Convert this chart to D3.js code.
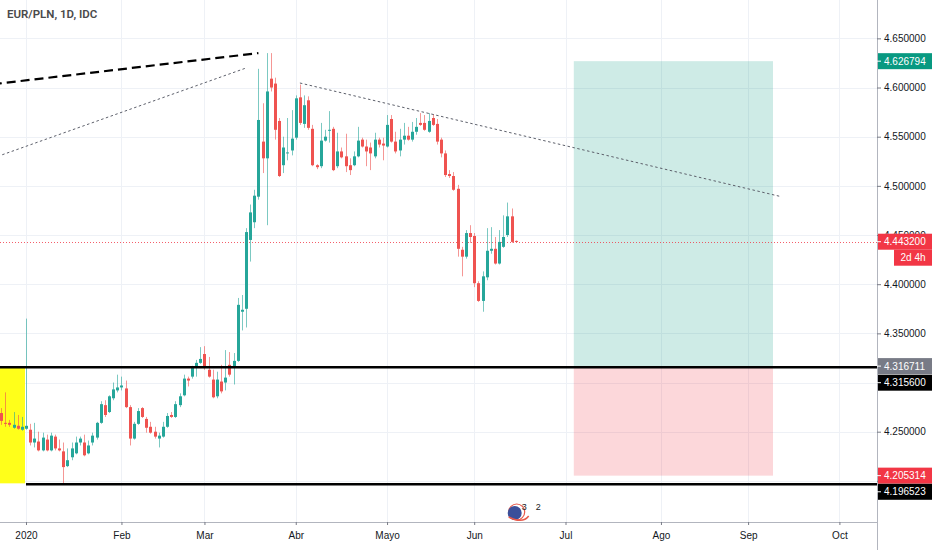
<!DOCTYPE html>
<html>
<head>
<meta charset="utf-8">
<script src="https://cdn.jsdelivr.net/npm/d3@7"></script>
<style>
  html, body { margin: 0; padding: 0; background: #ffffff; }
  svg { display: block; font-family: "Liberation Sans", Arial, sans-serif; }
</style>
</head>
<body>
<svg id="chart" width="932" height="550"></svg>
<script>
// ---------------- DATA ----------------
const title = "EUR/PLN, 1D, IDC";
const firstCandleDate = "2019-12-24";   // consecutive trading weekdays from here
const opens = [
  4.269,4.259,4.259,4.254,4.256,4.252,4.253,
  4.252,4.239,4.240,4.231,4.242,4.231,4.245,4.233,4.230,4.215,4.224,4.228,4.239,4.239,4.228,4.239,4.244,4.259,4.277,4.270,4.284,4.292,
  4.295,4.294,4.275,4.243,4.258,4.274,4.263,4.255,4.250,4.243,4.245,4.255,4.267,4.265,4.277,4.287,4.304,4.306,4.315,4.320,
  4.329,4.313,4.303,4.286,4.301,4.300,4.318,4.315,4.322,4.372,4.375,4.445,4.463,4.489,4.545,4.528,4.609,4.604,4.566,4.521,4.533,4.536,
  4.549,4.590,4.563,4.587,4.558,4.521,4.520,4.546,4.556,4.558,4.520,4.535,4.530,4.521,4.521,4.530,4.547,4.540,4.539,4.530,4.547,4.543,
  4.540,4.568,4.545,4.536,4.547,4.551,4.547,4.555,4.564,4.564,4.555,4.569,4.563,4.547,4.533,4.512,4.510,4.497,4.435,4.428,4.452,
  4.449,4.401,4.383,4.407,4.434,4.436,4.421,4.438,4.450,4.469,4.4440
];
const highs = [
  4.274,4.290,4.262,4.270,4.267,4.265,4.365,
  4.258,4.259,4.250,4.249,4.247,4.249,4.247,4.242,4.239,4.233,4.239,4.245,4.245,4.247,4.241,4.249,4.260,4.281,4.282,4.287,4.300,4.308,
  4.306,4.302,4.277,4.260,4.274,4.275,4.265,4.260,4.255,4.249,4.260,4.269,4.270,4.281,4.289,4.308,4.306,4.317,4.323,4.336,
  4.337,4.326,4.313,4.311,4.318,4.333,4.331,4.330,4.386,4.389,4.457,4.481,4.496,4.619,4.584,4.635,4.635,4.610,4.569,4.550,4.569,4.577,
  4.592,4.603,4.592,4.591,4.562,4.522,4.564,4.557,4.576,4.560,4.554,4.539,4.553,4.528,4.535,4.560,4.549,4.547,4.544,4.554,4.549,4.549,
  4.572,4.572,4.555,4.558,4.564,4.560,4.565,4.569,4.574,4.572,4.574,4.573,4.568,4.549,4.536,4.516,4.514,4.501,4.438,4.455,4.460,
  4.452,4.403,4.413,4.457,4.458,4.448,4.455,4.470,4.483,4.477,4.4445
];
const lows = [
  4.257,4.255,4.255,4.253,4.252,4.251,4.252,
  4.236,4.234,4.230,4.230,4.230,4.230,4.231,4.230,4.197,4.214,4.221,4.227,4.236,4.225,4.227,4.236,4.242,4.258,4.265,4.269,4.282,4.290,
  4.292,4.274,4.236,4.242,4.257,4.264,4.249,4.248,4.243,4.234,4.244,4.254,4.264,4.264,4.275,4.286,4.296,4.304,4.306,4.319,
  4.313,4.305,4.284,4.284,4.289,4.292,4.306,4.298,4.321,4.353,4.356,4.423,4.457,4.486,4.513,4.460,4.596,4.547,4.509,4.513,4.526,4.531,
  4.547,4.562,4.559,4.557,4.520,4.517,4.518,4.545,4.544,4.515,4.518,4.528,4.514,4.511,4.520,4.529,4.539,4.520,4.516,4.528,4.539,4.526,
  4.539,4.544,4.533,4.530,4.542,4.546,4.545,4.552,4.561,4.556,4.554,4.561,4.542,4.529,4.509,4.508,4.495,4.428,4.408,4.426,4.442,
  4.397,4.382,4.372,4.404,4.431,4.420,4.420,4.437,4.448,4.442,4.4430
];
const closes = [
  4.261,4.258,4.257,4.257,4.253,4.255,4.256,
  4.239,4.243,4.231,4.244,4.231,4.246,4.233,4.231,4.214,4.221,4.233,4.239,4.243,4.226,4.236,4.246,4.259,4.278,4.267,4.286,4.293,4.295,
  4.297,4.275,4.243,4.258,4.271,4.265,4.254,4.249,4.245,4.246,4.255,4.266,4.265,4.278,4.286,4.304,4.302,4.315,4.320,4.324,
  4.315,4.306,4.285,4.303,4.291,4.305,4.308,4.322,4.379,4.374,4.453,4.473,4.490,4.567,4.528,4.596,4.600,4.557,4.510,4.539,4.534,4.548,
  4.589,4.564,4.582,4.559,4.521,4.519,4.546,4.550,4.557,4.516,4.535,4.529,4.520,4.516,4.530,4.546,4.540,4.535,4.533,4.547,4.542,4.541,
  4.562,4.545,4.535,4.547,4.551,4.547,4.555,4.560,4.562,4.557,4.566,4.562,4.545,4.533,4.511,4.510,4.496,4.436,4.428,4.452,4.448,
  4.401,4.383,4.408,4.434,4.436,4.421,4.443,4.448,4.469,4.443,4.4432
];
const lastPrice = 4.4432;
const countdownText = "2d 4h";

const priceTicks = [4.65, 4.60, 4.55, 4.50, 4.45, 4.40, 4.35, 4.30, 4.25, 4.20];
const priceTickLabels = ["4.650000","4.600000","4.550000","4.500000","4.450000","4.400000","4.350000","","4.250000",""];
const timeTickDates  = ["2020-01-01","2020-02-03","2020-03-02","2020-04-01","2020-05-01","2020-06-01","2020-07-01","2020-08-03","2020-09-01","2020-10-01"];
const timeTickLabels = ["2020","Feb","Mar","Abr","Mayo","Jun","Jul","Ago","Sep","Oct"];

// drawings
const supportLevels = [
  { price: 4.3156,   from: "2019-12-20" },
  { price: 4.196523, from: "2020-01-01" }
];
const yellowBox = { from: "2019-12-20", to: "2020-01-01", top: 4.3156, bottom: 4.1975 };
const dashedLine = [ { date: "2019-12-20", price: 4.6033 }, { date: "2020-03-19", price: 4.6350 } ];
const dottedLine1 = [ { date: "2019-12-20", price: 4.5282 }, { date: "2020-03-16", price: 4.6198 } ];
const dottedLine2 = [ { date: "2020-04-02", price: 4.6046 }, { date: "2020-09-11", price: 4.4890 } ];
const longPosition = { from: "2020-07-03", to: "2020-09-09", target: 4.626794, entry: 4.316711, stop: 4.205314 };
const axisLabels = [
  { price: 4.626794, text: "4.626794", bg: "#089981", fg: "#ffffff" },
  { price: 4.4432,   text: "4.443200", bg: "#f23645", fg: "#ffffff" },
  { price: 4.316711, text: "4.316711", bg: "#787b86", fg: "#ffffff" },
  { price: 4.3156,   text: "4.315600", bg: "#000000", fg: "#ffffff", shift: 15.5 },
  { price: 4.205314, text: "4.205314", bg: "#f23645", fg: "#ffffff" },
  { price: 4.196523, text: "4.196523", bg: "#000000", fg: "#ffffff", shift: 7.5 }
];

// ---------------- LAYOUT ----------------
const W = 932, H = 550;
const plotRight = 877, plotBottom = 522;
const svg = d3.select("#chart");

const isWeekday = d => d.getUTCDay() !== 0 && d.getUTCDay() !== 6;
const parse = s => new Date(s + "T00:00:00Z");
const base = parse("2020-01-01");
function wdIndex(s) {
  const d = parse(s);
  if (d >= base) return d3.utcDays(base, d).filter(isWeekday).length;
  return -d3.utcDays(d, base).filter(isWeekday).length;
}
const candleDates = d3.utcDays(parse(firstCandleDate), parse("2020-12-31"))
  .filter(isWeekday).slice(0, opens.length).map(d => d3.utcFormat("%Y-%m-%d")(d));

const x = d3.scaleLinear().domain([-6.265, 205.06]).range([0, plotRight]);
const y = d3.scaleLinear().domain([4.6890, 4.1297]).range([0, H]);
const xd = s => x(wdIndex(s));

// clip
svg.append("defs").append("clipPath").attr("id", "plot")
  .append("rect").attr("x", 0).attr("y", 0).attr("width", plotRight).attr("height", plotBottom);

// grid
const grid = svg.append("g");
grid.selectAll("line.v").data(timeTickDates).join("line")
  .attr("x1", d => Math.round(xd(d)) + 0.5).attr("x2", d => Math.round(xd(d)) + 0.5)
  .attr("y1", 0).attr("y2", plotBottom).attr("stroke", "#eef1f6").attr("stroke-width", 1);
grid.selectAll("line.h").data(priceTicks).join("line")
  .attr("x1", 0).attr("x2", plotRight)
  .attr("y1", d => Math.round(y(d)) + 0.5).attr("y2", d => Math.round(y(d)) + 0.5)
  .attr("stroke", "#eef1f6").attr("stroke-width", 1);

const plot = svg.append("g").attr("clip-path", "url(#plot)");

// yellow box
plot.append("rect")
  .attr("x", xd(yellowBox.from)).attr("y", y(yellowBox.top))
  .attr("width", xd(yellowBox.to) - xd(yellowBox.from) - 1)
  .attr("height", y(yellowBox.bottom) - y(yellowBox.top))
  .attr("fill", "#ffff1a");

// long position
const lpX0 = xd(longPosition.from), lpX1 = xd(longPosition.to);
plot.append("rect").attr("x", lpX0).attr("y", y(longPosition.target))
  .attr("width", lpX1 - lpX0).attr("height", y(longPosition.entry) - y(longPosition.target))
  .attr("fill", "rgba(8,153,129,0.2)");
plot.append("rect").attr("x", lpX0).attr("y", y(longPosition.entry))
  .attr("width", lpX1 - lpX0).attr("height", y(longPosition.stop) - y(longPosition.entry))
  .attr("fill", "rgba(242,54,69,0.2)");

// price line
plot.append("line").attr("x1", 0).attr("x2", plotRight)
  .attr("y1", Math.round(y(lastPrice)) + 0.5).attr("y2", Math.round(y(lastPrice)) + 0.5)
  .attr("stroke", "#f23645").attr("stroke-width", 1).attr("stroke-dasharray", "1,2").attr("opacity", 0.8);

// candles
const cg = plot.append("g");
const candles = candleDates.map((d, i) => ({ d, o: opens[i], h: highs[i], l: lows[i], c: closes[i] }));
const up = "#26a69a", dn = "#ef5350";
cg.selectAll("line.wick").data(candles).join("line")
  .attr("x1", d => Math.round(xd(d.d)) + 0.5).attr("x2", d => Math.round(xd(d.d)) + 0.5)
  .attr("y1", d => y(d.h)).attr("y2", d => y(d.l))
  .attr("stroke", d => d.c >= d.o ? up : dn).attr("stroke-width", 1).attr("opacity", 0.6);
cg.selectAll("rect.body").data(candles).join("rect")
  .attr("x", d => Math.round(xd(d.d)) - 1).attr("width", 3)
  .attr("y", d => y(Math.max(d.o, d.c)))
  .attr("height", d => Math.max(1, Math.abs(y(d.o) - y(d.c))))
  .attr("fill", d => d.c >= d.o ? up : dn);

// horizontal levels
plot.selectAll("line.level").data(supportLevels).join("line")
  .attr("x1", d => xd(d.from)).attr("x2", plotRight)
  .attr("y1", d => y(d.price)).attr("y2", d => y(d.price))
  .attr("stroke", "#000").attr("stroke-width", 2.5);

// trend lines
const seg = (g, pts, color, w, dash) => g.append("line")
  .attr("x1", xd(pts[0].date)).attr("y1", y(pts[0].price))
  .attr("x2", xd(pts[1].date)).attr("y2", y(pts[1].price))
  .attr("stroke", color).attr("stroke-width", w).attr("stroke-dasharray", dash);
seg(plot, dashedLine, "#000", 2.2, "9,5");
seg(plot, dottedLine1, "#5d606b", 1, "2.5,2.5");
seg(plot, dottedLine2, "#5d606b", 1, "2.5,2.5");

// events icon
const ix = xd("2020-06-15") - 1, iy = 512;
svg.append("circle").attr("cx", ix + 2).attr("cy", iy).attr("r", 8).attr("fill", "none").attr("stroke", "#e8594a").attr("stroke-width", 1.2);
svg.append("circle").attr("cx", ix).attr("cy", iy + 1).attr("r", 7).attr("fill", "#3b4f9a");
svg.append("path").attr("d", `M${ix-6},${iy+5} Q${ix+8},${iy+12} ${ix+14},${iy+4}`).attr("fill", "none").attr("stroke", "#e8594a").attr("stroke-width", 1.5);
svg.append("text").attr("x", ix + 7).attr("y", iy - 2).attr("font-size", 9).attr("fill", "#222").text("3");
svg.append("text").attr("x", ix + 21).attr("y", iy - 2).attr("font-size", 9).attr("fill", "#222").text("2");

// axes lines
svg.append("line").attr("x1", plotRight + 0.5).attr("x2", plotRight + 0.5).attr("y1", 0).attr("y2", H)
  .attr("stroke", "#b2b5be").attr("stroke-width", 1);
svg.append("line").attr("x1", 0).attr("x2", plotRight).attr("y1", plotBottom + 0.5).attr("y2", plotBottom + 0.5)
  .attr("stroke", "#b2b5be").attr("stroke-width", 1);

// price axis
const yAxis = d3.axisRight(y).tickValues(priceTicks)
  .tickFormat((d, i) => priceTickLabels[i]).tickSize(4).tickPadding(3);
const ya = svg.append("g").attr("transform", `translate(${plotRight},0)`).call(yAxis);
ya.select(".domain").remove();
ya.selectAll("line").attr("stroke", "#787b86");
ya.selectAll("text").attr("font-size", 10).attr("fill", "#131722").attr("font-family", "Liberation Sans, Arial, sans-serif");

// time axis
const xTickIdx = timeTickDates.map(wdIndex);
const xAxis = d3.axisBottom(x).tickValues(xTickIdx).tickFormat((d, i) => timeTickLabels[i]).tickSize(3).tickPadding(7);
const xa = svg.append("g").attr("transform", `translate(0,${plotBottom})`).call(xAxis);
xa.select(".domain").remove();
xa.selectAll("line").attr("stroke", "#787b86");
xa.selectAll("text").attr("font-size", 10).attr("fill", "#131722").attr("font-family", "Liberation Sans, Arial, sans-serif");

// axis price labels
const lg = svg.append("g");
axisLabels.forEach(l => {
  const cy = (l.shift ? y(l.price) + l.shift : y(l.price));
  lg.append("rect").attr("x", plotRight + 1).attr("y", cy - 8).attr("width", W - plotRight - 1).attr("height", 16).attr("fill", l.bg);
  lg.append("line").attr("x1", plotRight).attr("x2", plotRight + 4).attr("y1", cy).attr("y2", cy).attr("stroke", l.fg);
  lg.append("text").attr("x", plotRight + 7).attr("y", cy).attr("dy", "0.35em")
    .attr("font-size", 10).attr("fill", l.fg).text(l.text);
});
// countdown
const cdy = y(lastPrice) + 16;
lg.append("rect").attr("x", 894).attr("y", cdy - 8).attr("width", W - 894).attr("height", 16).attr("fill", "#f23645");
lg.append("text").attr("x", 913).attr("y", cdy).attr("dy", "0.35em").attr("text-anchor", "middle")
  .attr("font-size", 10).attr("fill", "#fff").text(countdownText);

// title
svg.append("text").attr("x", 7).attr("y", 18).attr("font-size", 11.5).attr("font-weight", 600)
  .attr("font-family", "Roboto, Liberation Sans, sans-serif").attr("fill", "#4a4a4a").text(title);
</script>
</body>
</html>
